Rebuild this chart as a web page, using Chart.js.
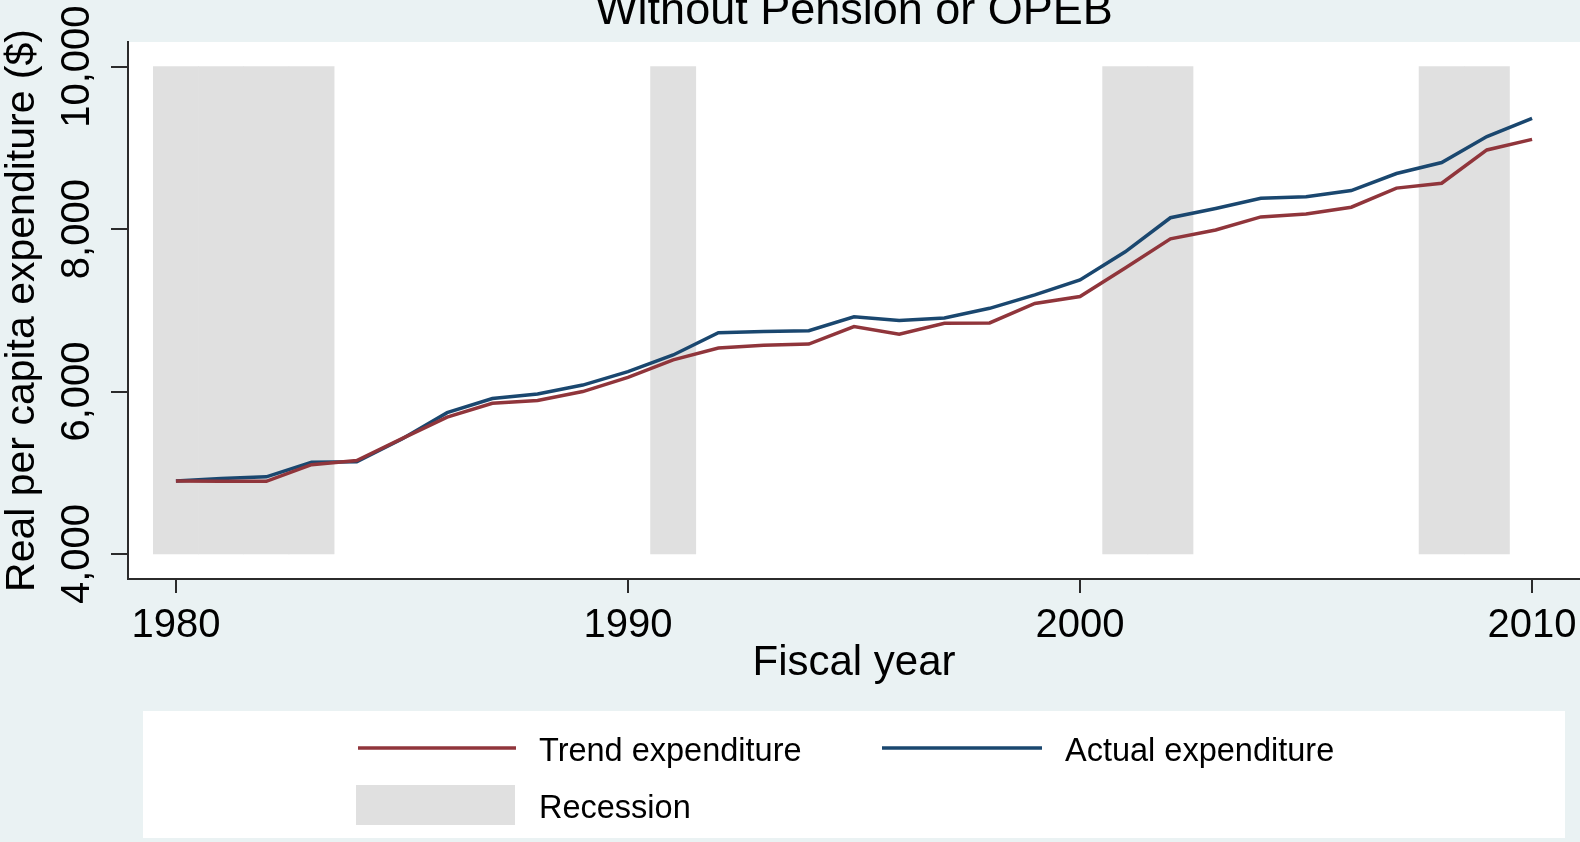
<!DOCTYPE html>
<html>
<head>
<meta charset="utf-8">
<title>Without Pension or OPEB</title>
<script src="https://cdn.jsdelivr.net/npm/chart.js@4.4.1/dist/chart.umd.min.js"></script>
<style>
  html, body { margin: 0; padding: 0; background: #EAF2F3; overflow: hidden; }
  canvas { display: block; }
</style>
</head>
<body>
<canvas id="grafico" width="1580" height="842"></canvas>
<script>
// Dados
const anos = [1980, 1981, 1982, 1983, 1984, 1985, 1986, 1987, 1988, 1989,
              1990, 1991, 1992, 1993, 1994, 1995, 1996, 1997, 1998, 1999,
              2000, 2001, 2002, 2003, 2004, 2005, 2006, 2007, 2008, 2009, 2010];
const trend = [4900, 4895, 4895, 5100, 5150, 5420, 5685, 5855, 5890, 6000,
               6175, 6390, 6535, 6570, 6585, 6800, 6705, 6840, 6845, 7085,
               7170, 7520, 7880, 7990, 8150, 8185, 8270, 8505, 8565, 8975, 9105];
const actual = [4900, 4930, 4950, 5130, 5135, 5415, 5740, 5915, 5970, 6080,
                6245, 6450, 6725, 6740, 6750, 6920, 6875, 6905, 7025, 7190,
                7375, 7720, 8140, 8255, 8380, 8400, 8475, 8685, 8820, 9140, 9365];
const anosRecessao = [1980, 1981, 1982, 1983, 1991, 2001, 2002, 2008, 2009];
const faixaRecessao = [4000, 10000];
const ticksX = [1980, 1990, 2000, 2010];
const ticksY = [4000, 6000, 8000, 10000];

const fonte = "'Liberation Sans', Arial, sans-serif";
const corEixo = '#2b2b2b';
const corTrend = '#90353B';
const corActual = '#1A476F';
const corRecessao = '#E0E0E0';

// Fundo branco da área do gráfico, título e legenda no estilo Stata
const molduraStata = {
    id: 'molduraStata',
    beforeDraw(chart) {
        const { ctx, chartArea: a } = chart;
        ctx.save();
        ctx.fillStyle = '#ffffff';
        ctx.fillRect(a.left, a.top, a.right - a.left, a.bottom - a.top);
        ctx.fillRect(143, 711, 1422, 127);
        ctx.restore();
    },
    afterDraw(chart) {
        const { ctx, chartArea: a } = chart;
        const ds = chart.data.datasets;
        ctx.save();
        ctx.fillStyle = '#000';
        ctx.textBaseline = 'alphabetic';
        ctx.textAlign = 'center';
        ctx.font = `45px ${fonte}`;
        ctx.fillText('Without Pension or OPEB', (a.left + a.right) / 2, 24);

        // Legenda
        ctx.lineWidth = 3.5;
        ctx.strokeStyle = ds[0].borderColor;
        ctx.beginPath(); ctx.moveTo(358, 748); ctx.lineTo(516, 748); ctx.stroke();
        ctx.strokeStyle = ds[1].borderColor;
        ctx.beginPath(); ctx.moveTo(882, 748); ctx.lineTo(1042, 748); ctx.stroke();
        ctx.fillStyle = ds[2].backgroundColor;
        ctx.fillRect(356, 785, 159, 40);

        ctx.fillStyle = '#000';
        ctx.textAlign = 'left';
        ctx.font = `32.5px ${fonte}`;
        ctx.fillText(ds[0].label, 539, 761);
        ctx.fillText(ds[1].label, 1065, 761);
        ctx.fillText(ds[2].label, 539, 818);
        ctx.restore();
    }
};

const ctx = document.getElementById('grafico').getContext('2d');
new Chart(ctx, {
    type: 'line',
    data: {
        datasets: [
            {
                label: 'Trend expenditure',
                data: anos.map((a, i) => ({ x: a, y: trend[i] })),
                borderColor: corTrend,
                borderWidth: 3.5,
                pointRadius: 0,
                tension: 0,
                order: 1
            },
            {
                label: 'Actual expenditure',
                data: anos.map((a, i) => ({ x: a, y: actual[i] })),
                borderColor: corActual,
                borderWidth: 3.5,
                pointRadius: 0,
                tension: 0,
                order: 2
            },
            {
                type: 'bar',
                label: 'Recession',
                data: anosRecessao.map(a => ({ x: a, y: faixaRecessao })),
                backgroundColor: corRecessao,
                borderWidth: 0,
                barPercentage: 1,
                categoryPercentage: 1,
                order: 3
            }
        ]
    },
    options: {
        responsive: false,
        animation: false,
        layout: { padding: { top: 42, right: 0, bottom: 153, left: 0 } },
        plugins: {
            legend: { display: false },
            tooltip: { enabled: false }
        },
        scales: {
            x: {
                type: 'linear',
                min: 1978.94,
                max: 2011.06,
                offset: false,
                afterBuildTicks(s) { s.ticks = ticksX.map(v => ({ value: v })); },
                afterFit(s) { s.height = 110; s.paddingLeft = 0; s.paddingRight = 0; },
                border: { display: true, color: corEixo, width: 2 },
                grid: { drawOnChartArea: false, drawTicks: true, tickLength: 14, color: corEixo, lineWidth: 2, offset: false },
                ticks: {
                    autoSkip: false,
                    maxRotation: 0,
                    padding: 9,
                    color: '#000',
                    font: { family: fonte, size: 40 },
                    callback: v => String(v)
                },
                title: {
                    display: true,
                    text: 'Fiscal year',
                    color: '#000',
                    padding: 0,
                    font: { family: fonte, size: 42 }
                }
            },
            y: {
                type: 'linear',
                min: 3692,
                max: 10304,
                afterBuildTicks(s) { s.ticks = ticksY.map(v => ({ value: v })); },
                afterFit(s) { s.width = 128; s.paddingTop = 0; s.paddingBottom = 0; },
                border: { display: true, color: corEixo, width: 2 },
                grid: { drawOnChartArea: false, drawTicks: true, tickLength: 17, color: corEixo, lineWidth: 2 },
                ticks: {
                    autoSkip: false,
                    minRotation: 90,
                    maxRotation: 90,
                    crossAlign: 'center',
                    padding: -28,
                    color: '#000',
                    font: { family: fonte, size: 40 },
                    callback: v => v.toLocaleString('en-US')
                },
                title: {
                    display: true,
                    text: 'Real per capita expenditure ($)',
                    color: '#000',
                    padding: 0,
                    font: { family: fonte, size: 41, lineHeight: 1.1 }
                }
            }
        }
    },
    plugins: [molduraStata]
});
</script>
</body>
</html>
